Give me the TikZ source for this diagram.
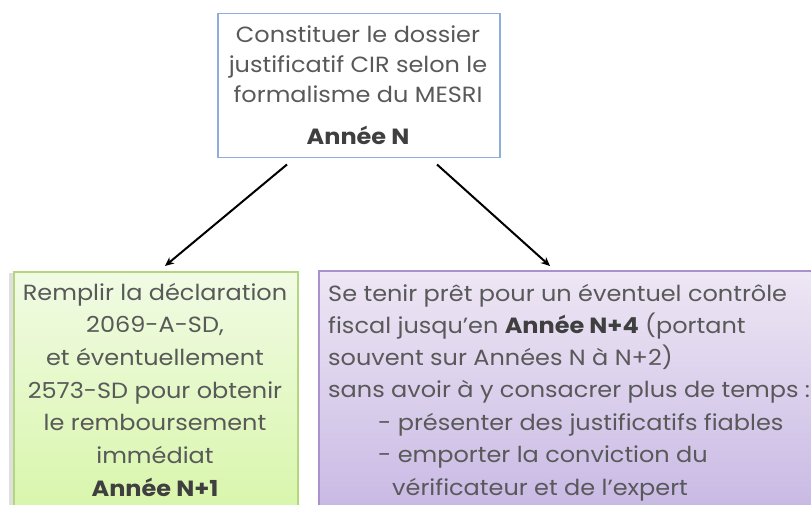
\documentclass[tikz,border=0pt]{standalone}
\usepackage{fontspec}
\setmainfont{Poppins}[FakeStretch=1.09]
\usetikzlibrary{arrows.meta,calc}
\definecolor{txt}{HTML}{595959}
\definecolor{txtb}{HTML}{3F3F3F}
\definecolor{topborder}{HTML}{8EADDB}
\definecolor{gtop}{HTML}{F1FBE4}
\definecolor{gbot}{HTML}{D6F5A6}
\definecolor{gborder}{HTML}{B3D67F}
\definecolor{ptop}{HTML}{EEE7F4}
\definecolor{pbot}{HTML}{C5B5E3}
\definecolor{pborder}{HTML}{A991CC}
\tikzset{
  box/.style={draw, line width=1.5pt, minimum width=#1, inner sep=0pt, anchor=north west},
  ltext/.style={font=\fontsize{22}{26}\selectfont, text=txt, inner sep=0pt},
  btext/.style={font=\fontsize{22}{26}\selectfont\bfseries, text=txtb, inner sep=0pt},
  arr/.style={-{Stealth[length=9pt,width=8pt]}, line width=2pt, black}
}
\begin{document}
\begin{tikzpicture}[x=1pt,y=-1pt]
\useasboundingbox (0,0) rectangle (811,505);
\begin{scope}
\clip (0,0) rectangle (811,505);
% boxes
\node[box=282pt, minimum height=144pt, draw=topborder, fill=white] (top) at (217,13) {};
\fill[gray!25] (9,273) rectangle (14,530);
\node[box=284pt, minimum height=260pt, draw=gborder, top color=gtop, bottom color=gbot] (green) at (13,271) {};
\node[box=512pt, minimum height=260pt, draw=pborder, top color=ptop, bottom color=pbot] (purple) at (318,270) {};
\end{scope}
% top text
\foreach \t [count=\i] in {Constituer le dossier, justificatif CIR selon le, formalisme du MESRI}
  \node[ltext, anchor=base] (t\i) at (358,{43+30*(\i-1)}) {\t};
\node[btext, anchor=base] (t4) at (358,145) {Année N};
% green text
\foreach \t [count=\i] in {Remplir la déclaration, {2069-A-SD,}, et éventuellement, 2573-SD pour obtenir, le remboursement, immédiat}
  \node[ltext, anchor=base] (g\i) at (155,{300+32.7*(\i-1)}) {\t};
\node[btext, anchor=base] (g7) at (155,496) {Année N+1};
% purple text
\node[ltext, anchor=base west] (p1) at (328,301) {Se tenir prêt pour un éventuel contrôle};
\node[ltext, anchor=base west] (p2) at (328,333) {fiscal jusqu'en \textcolor{txtb}{\bfseries Année N+4} (portant};
\node[ltext, anchor=base west] (p3) at (328,365) {souvent sur Années N à N+2)};
\node[ltext, anchor=base west] (p4) at (328,397) {sans avoir à y consacrer plus de temps :};
\node[ltext, anchor=base west] (p5) at (378,430) {- présenter des justificatifs fiables};
\node[ltext, anchor=base west] (p6) at (378,462) {- emporter la conviction du};
\node[ltext, anchor=base west] (p7) at (392,495) {vérificateur et de l'expert};
% arrows
\draw[arr] ($(top.south west)+(70,6)$) -- ($(green.north west)+(152,-5)$);
\draw[arr] ($(top.south west)+(220,6)$) -- ($(purple.north west)+(232,-4)$);
\end{tikzpicture}
\end{document}
